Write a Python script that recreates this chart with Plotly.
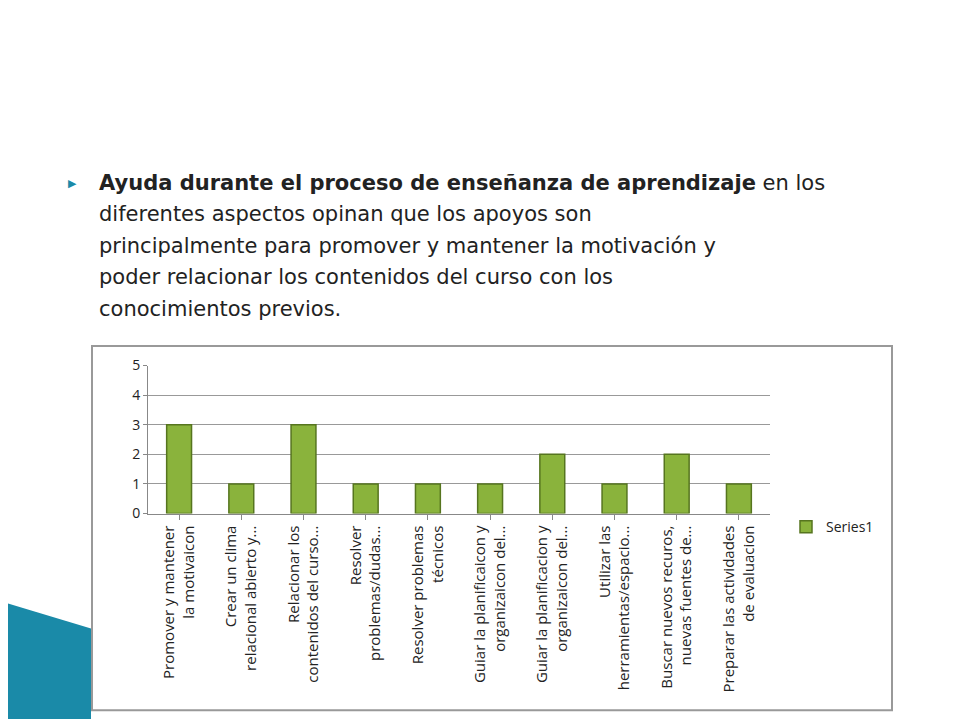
import plotly.graph_objects as go

categories = ["Promover y mantener<br>la motivaicon", "Crear un clima<br>relacional abierto y...",
              "Relacionar los<br>contenidos del curso...", "Resolver<br>problemas/dudas...",
              "Resolver problemas<br>técnicos", "Guiar la planificaicon y<br>organizaicon del...",
              "Guiar la planificacion y<br>organizaicon del...", "Utilizar las<br>herramientas/espacio...",
              "Buscar nuevos recuros,<br>nuevas fuentes de...", "Preparar las actividades<br>de evaluacion"]
values = [3, 1, 3, 1, 1, 1, 2, 1, 2, 1]

W, H = 960, 720
OFF = 8
def px(x): return (x - OFF) / W
def py(y): return 1 - (y - OFF) / H

fig = go.Figure()
fig.add_trace(go.Bar(x=categories, y=values, name="Series1", width=0.4,
                     marker=dict(color="#8ab33c", line=dict(color="#56751f", width=1.5))))

fig.update_layout(
    width=W, height=H, margin=dict(l=0, r=0, t=0, b=0),
    paper_bgcolor="white", plot_bgcolor="white",
    font=dict(family="Liberation Sans Narrow, Open Sans", color="#222"),
    xaxis=dict(domain=[px(148), px(770)], tickangle=-90,
               tickfont=dict(size=15, family="Liberation Sans Narrow, Open Sans", color="#222"),
               showline=True, linecolor="#888", ticks="outside", ticklen=5, tickcolor="#888",
               anchor="y"),
    yaxis=dict(domain=[py(517), py(365)], range=[0, 5], dtick=1, showgrid=True, gridcolor="#999",
               showline=True, linecolor="#888", ticks="outside", tickcolor="#888", ticklen=4,
               tickfont=dict(size=14, color="#222"), zeroline=False),
    legend=dict(x=px(786), y=py(531), yanchor="middle", xanchor="left",
                font=dict(size=14, color="#222", family="Liberation Sans Narrow, Open Sans"),
                bgcolor="rgba(0,0,0,0)"),
    showlegend=True,
)

fig.add_shape(type="rect", xref="paper", yref="paper", x0=px(92), x1=px(892), y0=py(719), y1=py(345),
              line=dict(color="#999", width=2), fillcolor="rgba(0,0,0,0)", layer="below")
fig.add_shape(type="path", xref="paper", yref="paper",
              path=f"M {px(0)} {py(607)} L {px(91)} {py(635)} L {px(91)} {py(728)} L {px(0)} {py(728)} Z",
              fillcolor="#1a8aa8", line=dict(width=0), layer="below")

lines = ["<b>Ayuda durante el proceso de enseñanza de aprendizaje</b> en los",
         "diferentes aspectos opinan que los apoyos son",
         "principalmente para promover y mantener la motivación y",
         "poder relacionar los contenidos del curso con los",
         "conocimientos previos."]
for i, t in enumerate(lines):
    fig.add_annotation(x=px(97), y=py(177 + 32.5 * i), xref="paper", yref="paper", text=t,
                       showarrow=False, xanchor="left", yanchor="middle",
                       font=dict(size=21, family="DejaVu Sans", color="#222"))
fig.add_annotation(x=px(72), y=py(177), xref="paper", yref="paper", text="▶", showarrow=False,
                   font=dict(size=11, color="#1a8aa8"), xanchor="center", yanchor="middle")

fig.write_html("out.html")
